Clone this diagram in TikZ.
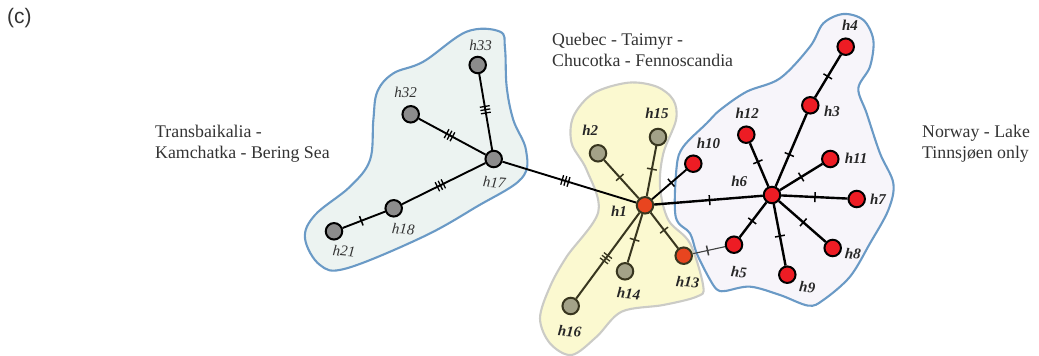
\documentclass[tikz,border=0pt]{standalone}
\usepackage{fontspec}
\setmainfont{Liberation Serif}
\newfontfamily\panelfont{Liberation Sans}
\usetikzlibrary{backgrounds}
\definecolor{lfill}{HTML}{ECF3F1}
\definecolor{mfill}{HTML}{FBF9D0}
\definecolor{rfill}{HTML}{F7F5FA}
\definecolor{bluedge}{HTML}{6A9AC6}
\definecolor{greyedge}{HTML}{CBCBC6}
\definecolor{darkolive}{HTML}{38361F}
\definecolor{txt}{HTML}{333333}
\definecolor{cgrey}{HTML}{8C8C8C}
\definecolor{colive}{HTML}{A3A288}
\definecolor{corange}{HTML}{E8451F}
\definecolor{cred}{HTML}{ED1C24}
\newcommand{\tickone}{\rule[-5pt]{1.5pt}{10pt}}
\newcommand{\tickthree}{\rule[-5pt]{1.3pt}{10pt}\hspace{2pt}\rule[-5pt]{1.3pt}{10pt}\hspace{2pt}\rule[-5pt]{1.3pt}{10pt}}
\tikzset{
  x=1pt,y=-1pt,
  hap/.style={circle,draw=black,line width=2pt,minimum size=16.5pt,inner sep=0pt},
  hgrey/.style={hap,fill=cgrey},
  holive/.style={hap,draw=darkolive,fill=colive},
  horange/.style={hap,draw=darkolive,fill=corange},
  hred/.style={hap,fill=cred},
  blob/.style={line width=2.1pt},
  lab/.style={font=\fontsize{15}{15}\selectfont\itshape,text=txt,inner sep=0pt},
  blab/.style={font=\fontsize{15}{15}\selectfont\bfseries\itshape,text=black!85,inner sep=0pt},
  place/.style={font=\fontsize{17.8}{21}\selectfont,text=txt,align=left,anchor=north west,inner sep=0pt},
  one/.style={sloped,inner sep=0pt,pos=#1,node contents=\tickone},
  three/.style={sloped,inner sep=0pt,pos=#1,node contents=\tickthree},
  lk/.style={color=black,line width=1.9pt},
  lkm/.style={color=darkolive,line width=2pt},
  lkr/.style={color=black,line width=2.4pt},
  lkt/.style={color=black!75,line width=1.1pt},
}
\begin{document}
\begin{tikzpicture}
\useasboundingbox (0,0) rectangle (1039,356);
% nodes
\node[hgrey] (h33) at (477.7,65) {};
\node[hgrey] (h32) at (410.7,114.3) {};
\node[hgrey] (h17) at (493.7,159) {};
\node[hgrey] (h18) at (393.7,208.3) {};
\node[hgrey] (h21) at (334,231.3) {};
\node[horange] (h1) at (645,205.3) {};
\node[holive] (h2) at (598,153.3) {};
\node[holive] (h15) at (658,137) {};
\node[holive] (h14) at (625,271.3) {};
\node[holive] (h16) at (570.7,306) {};
\node[horange] (h13) at (683.7,255.7) {};
\node[hred] (h10) at (693.3,163.7) {};
\node[hred] (h4) at (845.7,46.7) {};
\node[hred] (h3) at (810.3,105.3) {};
\node[hred] (h12) at (746.3,134.7) {};
\node[hred] (h11) at (830.3,159) {};
\node[hred] (h6) at (772,195) {};
\node[hred] (h7) at (856.7,199) {};
\node[hred] (h8) at (832.7,248) {};
\node[hred] (h9) at (787.3,274.7) {};
\node[hred] (h5) at (734,244.7) {};
\begin{scope}[on background layer]
\begin{scope}[shift={(290pt,-20pt)},x=0.33333pt,y=-0.33333pt]
\draw[blob,draw=bluedge,fill=lfill] plot[smooth cycle,tension=0.6] coordinates {(630,35)(645,85)(650,200)(670,300)(708,390)(695,475)(560,560)(400,650)(170,745)(90,735)(45,655)(75,585)(180,500)(240,420)(250,300)(262,215)(310,160)(400,125)(530,35)};
\end{scope}
\begin{scope}[shift={(680pt,-10pt)},x=0.33333pt,y=-0.33333pt]
\draw[blob,draw=bluedge,fill=rfill] plot[smooth cycle,tension=0.55] coordinates {(490,12)(550,30)(580,90)(570,170)(535,235)(560,310)(600,430)(640,520)(625,600)(570,700)(510,800)(430,870)(385,887)(300,855)(210,830)(135,843)(110,838)(85,800)(50,730)(30,670)(-13,620)(-10,470)(10,410)(80,340)(120,300)(200,245)(300,205)(390,110)(430,40)};
\end{scope}
\begin{scope}[shift={(530pt,-80pt)},x=0.33333pt,y=-0.33333pt]
\draw[blob,draw=greyedge,fill=mfill] plot[smooth cycle,tension=0.55] coordinates {(295,8)(380,20)(430,60)(438,120)(400,220)(390,320)(415,420)(480,490)(520,620)(500,650)(400,675)(275,695)(200,770)(125,825)(60,790)(30,715)(60,620)(110,530)(205,395)(170,270)(125,190)(130,110)(190,40)};
\end{scope}
\draw[lk] (h33) -- node[three=.47]{} (h17);
\draw[lk] (h32) -- node[three=.46]{} (h17);
\draw[lk] (h18) -- node[three=.46]{} (h17);
\draw[lk] (h21) -- node[one=.44]{} (h18);
\draw[lk] (h17) -- node[three=.47]{} (h1);
\draw[lkm] (h2) -- node[one=.45]{} (h1);
\draw[lkm] (h15) -- node[one=.46]{} (h1);
\draw[lkm] (h1) -- node[one=.49]{} (h13);
\draw[lkm] (h1) -- node[one=.53]{} (h14);
\draw[lkm] (h1) -- node[three=.53]{} (h16);
\draw[lk] (h1) -- node[one=.56]{} (h10);
\draw[lkr] (h1) -- node[one=.51]{} (h6);
\draw[lkt] (h13) -- node[one=.46]{} (h5);
\draw[lkr] (h3) -- node[one=.49]{} (h4);
\draw[lkr] (h6) -- node[one=.44]{} (h3);
\draw[lkr] (h12) -- node[one=.43]{} (h6);
\draw[lkr] (h6) -- node[one=.5]{} (h11);
\draw[lkr] (h6) -- node[one=.51]{} (h7);
\draw[lkr] (h6) -- node[one=.52]{} (h8);
\draw[lkr] (h6) -- node[one=.52]{} (h9);
\draw[lkr] (h6) -- node[one=.53]{} (h5);
\end{scope}
% labels
\node[lab] (l33) at (480.7,45) {h33};
\node[lab] (l32) at (405.7,92) {h32};
\node[lab,rotate=-5] (l17) at (494.3,182.3) {h17};
\node[lab,rotate=-5] (l18) at (403.3,229) {h18};
\node[lab,rotate=-5] (l21) at (344,251) {h21};
\node[blab] (l15) at (657,113.3) {h15};
\node[blab] (l2) at (590.3,130.7) {h2};
\node[blab] (l10) at (708.5,143) {h10};
\node[blab] (l1) at (619,211) {h1};
\node[blab,rotate=-5] (l13) at (687.7,282) {h13};
\node[blab,rotate=-5] (l14) at (628.7,293.7) {h14};
\node[blab,rotate=-5] (l16) at (569.7,331.3) {h16};
\node[blab] (l4) at (850,25.7) {h4};
\node[blab] (l3) at (832,111.3) {h3};
\node[blab] (l12) at (747.3,113) {h12};
\node[blab] (l11) at (856,158.3) {h11};
\node[blab] (l6) at (739.3,181.7) {h6};
\node[blab] (l7) at (878,199.7) {h7};
\node[blab,rotate=-5] (l8) at (853,253.7) {h8};
\node[blab,rotate=-5] (l9) at (807.3,287.3) {h9};
\node[blab,rotate=-5] (l5) at (739,272) {h5};
\node[place] (t1) at (155,124.5) {Transbaikalia -\\Kamchatka - Bering Sea};
\node[place] (t2) at (552,33) {Quebec - Taimyr -\\Chucotka - Fennoscandia};
\node[place] (t3) at (922,124.5) {Norway - Lake\\Tinnsjøen only};
\node[font=\panelfont\fontsize{21}{21}\selectfont,text=txt,anchor=north west,inner sep=0pt] (c) at (7,8) {(c)};
\end{tikzpicture}
\end{document}
